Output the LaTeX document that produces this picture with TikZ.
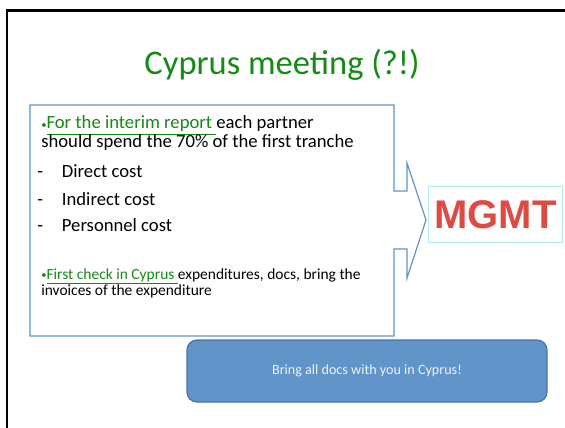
\documentclass[tikz,border=0pt]{standalone}
\usepackage{fontspec}
\setmainfont{Carlito}
\newfontfamily\wordart{Liberation Sans}
\definecolor{titlegreen}{RGB}{22,138,22}
\definecolor{calloutblue}{RGB}{98,146,204}
\definecolor{boxfill}{RGB}{97,149,201}
\definecolor{boxedge}{RGB}{70,117,168}
\definecolor{aquaedge}{RGB}{176,236,224}
\definecolor{mgmtred}{RGB}{224,74,68}
\newcommand{\dotmark}{{\fontsize{8}{8}\selectfont\raisebox{0.6pt}{•}}}
\begin{document}
\begin{tikzpicture}[x=0.75pt, y=-0.75pt,
    bigline/.style={anchor=base west, inner sep=0pt, font=\fontsize{14}{16}\selectfont},
    smallline/.style={anchor=base west, inner sep=0pt, font=\fontsize{11.6}{13}\selectfont}]
\useasboundingbox (0,0) rectangle (565,428);
% slide frame
\draw[line width=1.9pt] (7,428) -- (7,10.5) -- (565,10.5);
\node[anchor=base, inner sep=0pt, text=titlegreen, font=\fontsize{25.9}{30}\selectfont] (title) at (282,75) {Cyprus meeting (?!)};
% callout
\draw[calloutblue, line width=0.9pt, fill=white] (30,105) -- (394,105) -- (394,191) -- (407,191) -- (407,163) -- (426,220)
    -- (407,278) -- (407,249) -- (394,249) -- (394,336) -- (30,336) -- cycle;
\node[bigline] (interim) at (41,129) {\textcolor{titlegreen}{\dotmark\underline{For the interim report\ }}each partner};
\node[bigline] (spend) at (41,148) {should spend the 70\% of the first tranche};
\node[bigline] (direct) at (37,178) {\makebox[18.5pt][l]{-}Direct cost};
\node[bigline] (indirect) at (37,205) {\makebox[18.5pt][l]{-}Indirect cost};
\node[bigline] (personnel) at (37,232) {\makebox[18.5pt][l]{-}Personnel cost};
\node[smallline] (check) at (41,279) {\textcolor{titlegreen}{\dotmark\underline{First check in Cyprus\ }}expenditures, docs, bring the};
\node[smallline] (invoices) at (41,296) {invoices of the expenditure};
% management box
\node[draw=aquaedge, line width=0.8pt, minimum width=101pt, minimum height=42.5pt, inner sep=0pt,
    text=mgmtred, font=\wordart\bfseries\fontsize{30}{30}\selectfont] (mgmt) at (495.5,214.5) {MGMT};
% reminder
\node[draw=boxedge, fill=boxfill, line width=0.9pt, rounded corners=7.5pt, minimum width=270pt, minimum height=46.5pt,
    text={rgb,255:red,236;green,242;blue,250}, font=\fontsize{10.6}{12}\selectfont] (docs) at (367,371) {Bring all docs with you in Cyprus!};
\end{tikzpicture}
\end{document}
